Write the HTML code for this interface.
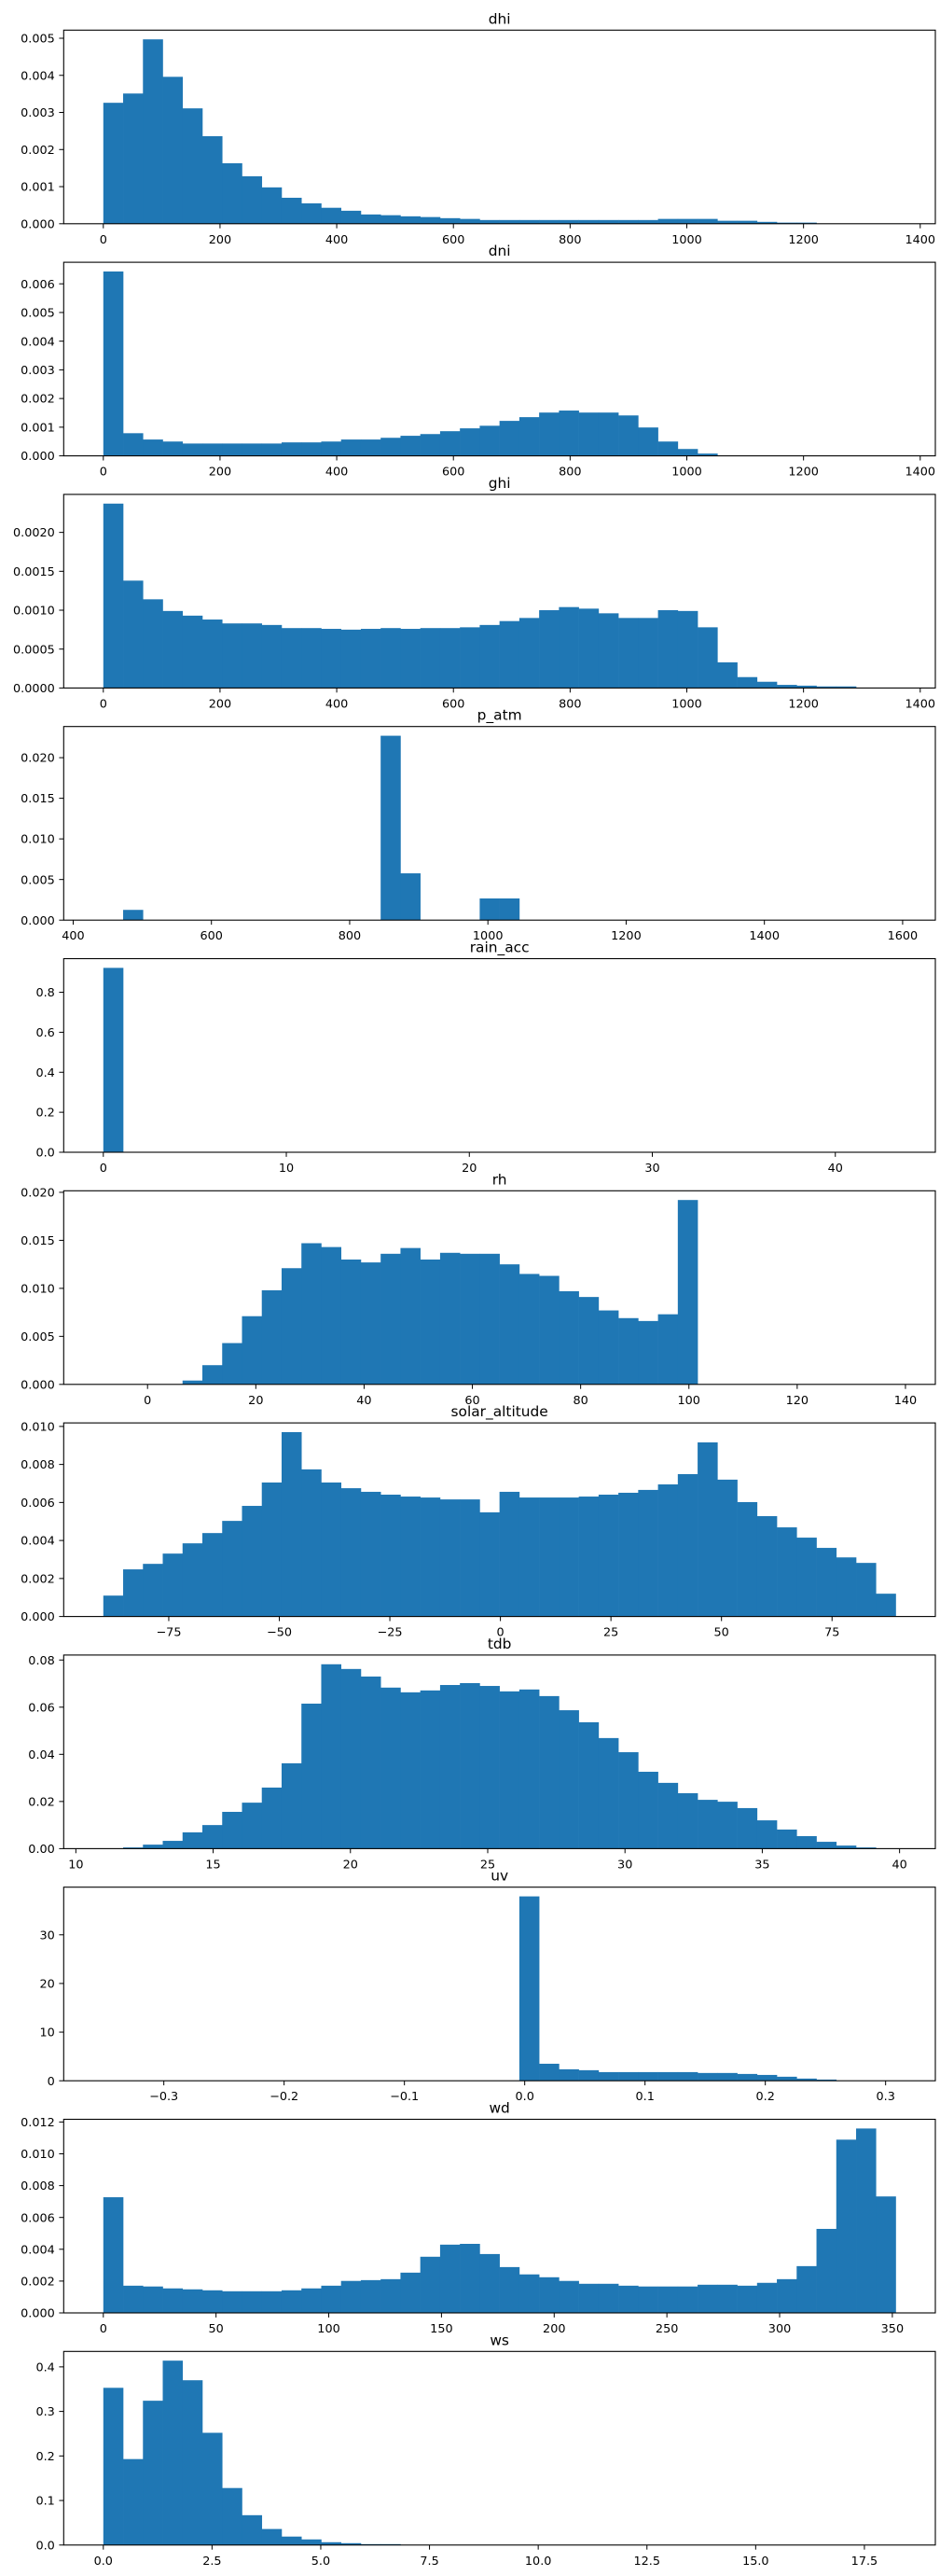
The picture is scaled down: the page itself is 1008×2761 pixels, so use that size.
<!DOCTYPE html>
<html><head><meta charset="utf-8"><style>
html,body{margin:0;padding:0;background:#fff;}
svg{display:block;font-family:"DejaVu Sans","Liberation Sans",sans-serif;}
</style></head><body>
<svg id="fig" width="1008" height="2761" viewBox="0 0 1008 2761" xmlns="http://www.w3.org/2000/svg"></svg>
<script>
// ---- data (40 bins per variable, density values) ----
const titles = ["dhi","dni","ghi","p_atm","rain_acc","rh","solar_altitude","tdb","uv","wd","ws"];
const binStart = [0,0,0,443.6,0,-8.17,-89.8,11.0,-0.3503,0,0];
const binEnd = [1358,1358,1358,1590,43.3,138.2,89.4,39.86,0.3084,351.5,18.22];
const dhiValues = [0.00326,0.00351,0.00497,0.00396,0.00311,0.00236,0.00163,0.00128,0.00098,0.00070,0.00055,0.00043,0.00035,0.00025,0.00023,0.00020,0.00018,0.00015,0.00013,0.0001,0.0001,0.0001,0.0001,0.0001,0.0001,0.0001,0.0001,0.0001,0.00013,0.00013,0.00013,0.00008,0.00008,0.00005,0.00003,0.00003,0,0,0,0];
const dniValues = [0.00643,0.00079,0.00057,0.00050,0.00043,0.00043,0.00043,0.00043,0.00043,0.00047,0.00047,0.0005,0.00057,0.00057,0.00063,0.0007,0.00076,0.00086,0.00096,0.00105,0.00122,0.00135,0.00151,0.00158,0.00151,0.00151,0.00141,0.00099,0.0005,0.00024,0.00008,0,0,0,0,0,0,0,0,0];
const ghiValues = [0.00237,0.00138,0.00114,0.00099,0.00093,0.00088,0.00083,0.00083,0.00081,0.00077,0.00077,0.00076,0.00075,0.00076,0.00077,0.00076,0.00077,0.00077,0.00078,0.00081,0.00086,0.0009,0.001,0.00104,0.00102,0.00096,0.0009,0.0009,0.001,0.00099,0.00078,0.00033,0.00014,0.00008,0.00004,0.00003,0.00002,0.00002,0,0];
const patmValues = [0,0.00126,0,0,0,0,0,0,0,0,0,0,0,0,0.0227,0.00576,0,0,0,0.00267,0.00267,0,0,0,0,0,0,0,0,0,0,0,0,0,0,0,0,0,0,0];
const rainValues = [0.922,0,0,0,0,0,0,0,0,0,0,0,0,0,0,0,0,0,0,0,0,0,0,0,0,0,0,0,0,0,0,0,0,0,0,0,0,0,0,0];
const rhValues = [0,0,0,0,0.0004,0.0020,0.0043,0.0071,0.0098,0.0121,0.0147,0.0143,0.0130,0.0127,0.0136,0.0142,0.0130,0.0137,0.0136,0.0136,0.0125,0.0115,0.0113,0.0097,0.0091,0.0077,0.0069,0.0066,0.0073,0.0192,0,0,0,0,0,0,0,0,0,0];
const solarValues = [0.0011,0.00248,0.00277,0.00331,0.00385,0.00439,0.00503,0.00582,0.00705,0.0097,0.00774,0.00705,0.00675,0.00656,0.00641,0.00631,0.00626,0.00616,0.00616,0.00548,0.00656,0.00626,0.00626,0.00626,0.00631,0.00641,0.00651,0.00666,0.00695,0.00749,0.00916,0.0072,0.00602,0.00528,0.00469,0.00415,0.00361,0.00311,0.00282,0.0012];
const tdbValues = [0,0.0005,0.0017,0.0033,0.0069,0.01,0.0156,0.0195,0.0259,0.0362,0.0615,0.0782,0.0762,0.073,0.0683,0.0663,0.0671,0.0694,0.0702,0.069,0.0667,0.0675,0.0647,0.0587,0.0536,0.0469,0.0409,0.0326,0.0279,0.0235,0.0207,0.0199,0.0172,0.012,0.0081,0.0053,0.0029,0.0013,0.0005,0];
const uvValues = [0,0,0,0,0,0,0,0,0,0,0,0,0,0,0,0,0,0,0,0,0,37.9,3.5,2.36,2.17,1.78,1.78,1.78,1.78,1.78,1.6,1.6,1.4,1.2,0.83,0.45,0.25,0,0,0];
const wdValues = [0.00727,0.00171,0.00166,0.00154,0.00148,0.00142,0.00136,0.00136,0.00136,0.00142,0.00154,0.00171,0.00201,0.00206,0.00212,0.00253,0.00353,0.00429,0.00434,0.0037,0.00288,0.00242,0.00224,0.00201,0.00183,0.00183,0.00171,0.00166,0.00166,0.00166,0.00177,0.00177,0.00171,0.00189,0.00212,0.00294,0.00528,0.01089,0.01159,0.00732];
const wsValues = [0.353,0.193,0.324,0.414,0.370,0.252,0.128,0.067,0.036,0.019,0.0126,0.0063,0.0042,0.002,0.002,0,0,0,0,0,0,0,0,0,0,0,0,0,0,0,0,0,0,0,0,0,0,0,0,0];
const seriesValues = [dhiValues,dniValues,ghiValues,patmValues,rainValues,rhValues,solarValues,tdbValues,uvValues,wdValues,wsValues];
const xTicks = [[0,200,400,600,800,1000,1200,1400],[0,200,400,600,800,1000,1200,1400],[0,200,400,600,800,1000,1200,1400],[400,600,800,1000,1200,1400,1600],[0,10,20,30,40],[0,20,40,60,80,100,120,140],[-75,-50,-25,0,25,50,75],[10,15,20,25,30,35,40],[-0.3,-0.2,-0.1,0,0.1,0.2,0.3],[0,50,100,150,200,250,300,350],[0,2.5,5,7.5,10,12.5,15,17.5]];
const xTickDecimals = [0,0,0,0,0,0,0,0,1,0,1];
const yTicks = [[0,0.001,0.002,0.003,0.004,0.005],[0,0.001,0.002,0.003,0.004,0.005,0.006],[0,0.0005,0.001,0.0015,0.002],[0,0.005,0.01,0.015,0.02],[0,0.2,0.4,0.6,0.8],[0,0.005,0.01,0.015,0.02],[0,0.002,0.004,0.006,0.008,0.01],[0,0.02,0.04,0.06,0.08],[0,10,20,30],[0,0.002,0.004,0.006,0.008,0.01,0.012],[0,0.1,0.2,0.3,0.4]];
const yTickDecimals = [3,3,4,3,1,3,3,2,0,3,1];

const NS="http://www.w3.org/2000/svg";
const svg=document.getElementById('fig');
const L=68.3,R=1003,H=207.5,T0=32.3,PITCH=248.8;
function mk(tag,attrs){const e=document.createElementNS(NS,tag);for(const k in attrs)e.setAttribute(k,attrs[k]);return e;}
function fmt(v,d){let s=v.toFixed(d);if(parseFloat(s)===0)s=(0).toFixed(d);return s.replace('-','\u2212');}

for(let i=0;i<titles.length;i++){
  const top=T0+i*PITCH,bot=top+H;
  const a=binStart[i],b=binEnd[i],vals=seriesValues[i];
  const xmin=a-0.05*(b-a),xmax=b+0.05*(b-a);
  const ymax=Math.max(...vals)*1.05;
  const xs=v=>L+(v-xmin)/(xmax-xmin)*(R-L);
  const ys=v=>bot-v/ymax*H;
  const g=mk('g',{});
  
  
  svg.appendChild(g);
  const n=vals.length,w=(b-a)/n;
  for(let k=0;k<n;k++){
    if(vals[k]<=0)continue;
    const x0=xs(a+k*w),x1=xs(a+(k+1)*w),y=ys(vals[k]);
    const r=mk('rect',{x:x0,y:y,width:x1-x0+0.3,height:bot-y,fill:'#1f77b4'});
    
    
    g.appendChild(r);
  }
  const fr=mk('rect',{x:L,y:top,width:R-L,height:H,fill:'none',stroke:'#000','stroke-width':1.1});
  
  
  g.appendChild(fr);
  const tt=mk('text',{x:(L+R)/2,y:top-7,'text-anchor':'middle','font-size':'15.4px',fill:'#000'});
  tt.textContent=titles[i];
  
  
  g.appendChild(tt);
  for(const t of xTicks[i]){
    const x=xs(t);
    g.appendChild(mk('line',{x1:x,x2:x,y1:bot,y2:bot+4.9,stroke:'#000','stroke-width':1}));
    const lb=mk('text',{x:x,y:bot+21,'text-anchor':'middle','font-size':'12.8px',fill:'#000'});
    lb.textContent=fmt(t,xTickDecimals[i]);
    
    
    g.appendChild(lb);
  }
  for(const t of yTicks[i]){
    const y=ys(t);
    g.appendChild(mk('line',{x1:L,x2:L-4.9,y1:y,y2:y,stroke:'#000','stroke-width':1}));
    const lb=mk('text',{x:L-9.5,y:y+4.6,'text-anchor':'end','font-size':'12.8px',fill:'#000'});
    lb.textContent=fmt(t,yTickDecimals[i]);
    
    
    g.appendChild(lb);
  }
}
</script>
</body></html>
